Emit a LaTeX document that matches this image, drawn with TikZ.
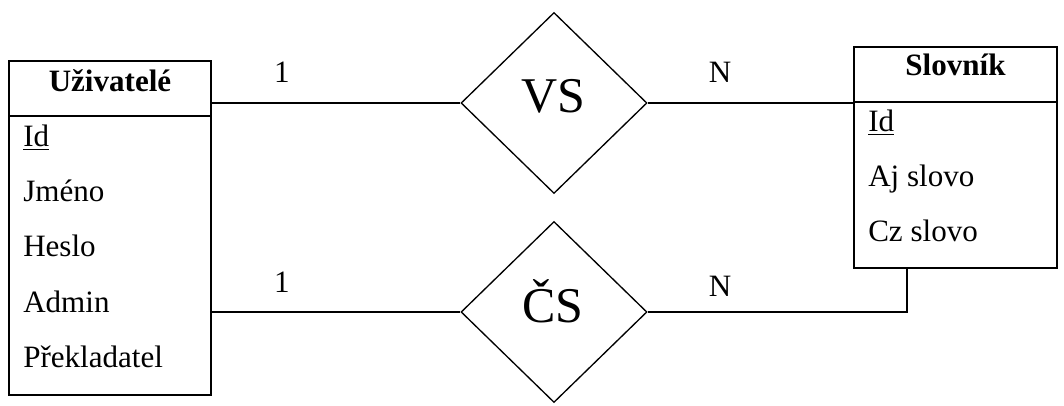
\documentclass[tikz,border=0pt]{standalone}
\usepackage{fontspec}
\setmainfont{Liberation Serif}
\usetikzlibrary{shapes.geometric}
\begin{document}
\begin{tikzpicture}[x=0.75pt,y=-0.75pt,
  ebox/.style={draw,line width=1.5pt,inner sep=0pt,rectangle},
  rel/.style={draw,diamond,line width=1pt,inner sep=0pt,minimum width=139.5pt,minimum height=135.75pt},
  conn/.style={line width=1.1pt},
  attr/.style={anchor=base west,inner sep=0pt,font=\fontsize{23.3}{28}\selectfont},
  head/.style={anchor=base,inner sep=0pt,font=\fontsize{23.3}{28}\selectfont\bfseries},
  card/.style={anchor=base,inner sep=0pt,font=\fontsize{23.3}{28}\selectfont},
  rlabel/.style={anchor=base,inner sep=0pt,font=\fontsize{37.5}{44}\selectfont}]
\useasboundingbox (0,0) rectangle (1064,406);
% entities
\node[ebox,minimum width=151.5pt,minimum height=250.5pt] (U) at (110,228) {};
\node[ebox,minimum width=152.25pt,minimum height=165.75pt] (S) at (955.5,157.5) {};
\draw[line width=1.5pt] (U.west |- 0,116) -- (U.east |- 0,116);
\draw[line width=1.5pt] (S.west |- 0,102) -- (S.east |- 0,102);
\node[head] (Uh) at (110,92) {Uživatelé};
\node[head] (Sh) at (955.5,76) {Slovník};
\node[attr] (u1) at (23,147) {\underline{Id}};
\node[attr] (u2) at (23,202) {Jméno};
\node[attr] (u3) at (23,257) {Heslo};
\node[attr] (u4) at (23,312) {Admin};
\node[attr] (u5) at (23,367) {Překladatel};
\node[attr] (s1) at (868,132) {\underline{Id}};
\node[attr] (s2) at (868,187) {Aj slovo};
\node[attr] (s3) at (868,242) {Cz slovo};
% relationships
\node[rel] (VS) at (554,103) {};
\node[rel] (CS) at (554,312) {};
\node[rlabel] (VSt) at (553,113) {VS};
\node[rlabel] (CSt) at (553,322) {ČS};
% connectors
\draw[conn] (VS.west -| U.east) -- (VS.west);
\draw[conn] (VS.east) -- (VS.east -| S.west);
\draw[conn] (CS.west -| U.east) -- (CS.west);
\coordinate (k) at (907,312);
\draw[conn] (CS.east) -- (k) -- (k |- S.south);
% cardinalities
\node[card] (c1) at (282,83) {1};
\node[card] (c2) at (720,83) {N};
\node[card] (c3) at (282,292) {1};
\node[card] (c4) at (720,296) {N};
\end{tikzpicture}
\end{document}
